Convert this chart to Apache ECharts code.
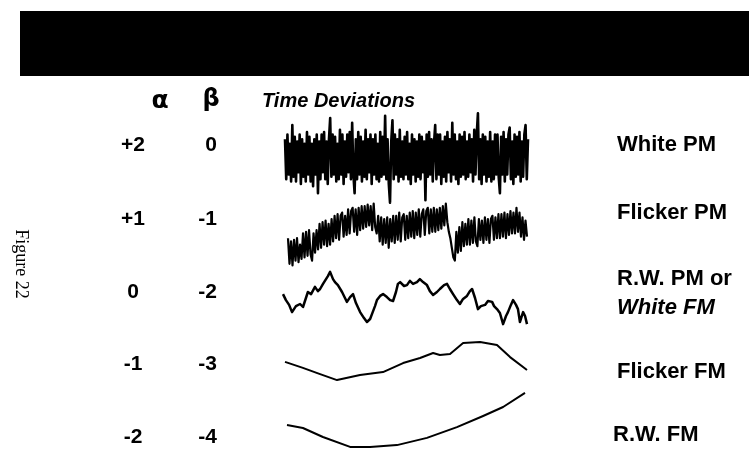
<!DOCTYPE html>
<html>
<head>
<meta charset="utf-8">
<script src="https://cdn.jsdelivr.net/npm/echarts@6/dist/echarts.min.js"></script>
<style>html,body{margin:0;padding:0;background:#fff}#c{width:749px;height:449px}</style>
</head>
<body>
<div id="c"></div>
<script>
// Row labels
var alphaLabels = ['+2', '+1', '0', '-1', '-2'];
var betaLabels = ['0', '-1', '-2', '-3', '-4'];
var noiseNames = ['White PM', 'Flicker PM', 'R.W. PM or', 'Flicker FM', 'R.W. FM'];

// White PM (sample index -> deviation)
var whitePM = [
 0.4,-0.45,0.5,-0.35,0.3,-0.5,0.7,-0.4,0.45,-0.5,
 0.35,-0.3,0.5,-0.55,0.4,-0.4,0.3,-0.5,0.55,-0.35,
 0.45,-0.5,0.3,-0.6,0.4,-0.35,0.5,-0.75,0.35,-0.45,
 0.5,-0.3,0.55,-0.45,0.35,-0.55,0.4,0.85,-0.4,0.5,
 -0.35,0.45,-0.5,0.3,-0.45,0.6,-0.35,0.5,-0.55,0.35,
 -0.4,0.5,-0.3,0.55,-0.45,0.75,-0.35,-0.75,0.4,-0.45,
 0.55,-0.35,0.45,-0.5,0.35,-0.4,0.6,-0.45,0.4,-0.3,
 0.5,-0.55,0.4,-0.35,0.5,-0.45,0.3,-0.5,0.55,-0.4,
 0.45,-0.35,0.9,-0.45,0.4,-0.55,-0.95,0.35,0.8,-0.45,
 0.5,-0.35,0.4,-0.5,0.6,-0.4,0.35,-0.45,0.45,-0.35,
 0.55,-0.45,0.3,-0.55,0.5,-0.35,0.4,-0.5,0.35,-0.4,
 0.5,-0.45,0.45,-0.3,0.35,-0.9,0.5,-0.4,0.55,-0.35,
 0.4,-0.5,0.3,0.7,-0.45,0.5,-0.35,0.5,-0.55,0.35,
 -0.4,0.45,-0.5,0.55,-0.3,0.4,-0.5,0.75,-0.35,0.5,
 -0.45,0.35,-0.55,0.5,-0.4,0.45,-0.35,0.55,-0.45,0.35,
 -0.4,0.5,-0.3,0.4,-0.5,0.6,-0.35,0.5,0.95,-0.45,
 0.4,-0.55,0.5,-0.35,0.45,-0.5,0.35,-0.4,0.55,-0.5,
 0.35,-0.45,0.5,-0.35,0.5,-0.4,-0.75,0.45,-0.35,0.55,
 -0.5,0.4,-0.35,0.5,0.65,-0.45,0.35,-0.55,0.5,-0.4,
 0.45,-0.35,0.55,-0.5,0.35,-0.4,0.5,0.7,-0.45,0.4
];

// Flicker PM (sample index -> deviation)
var flickerPM = [
 -0.1,-0.9,-0.2,-0.95,-0.15,-0.8,-0.1,-0.85,-0.3,-0.75,
 0.05,-0.7,0.1,-0.65,0.15,-0.6,-0.8,0.05,-0.55,0.15,
 -0.45,0.35,-0.4,0.4,-0.3,0.45,-0.35,0.35,-0.3,0.5,
 -0.2,0.6,-0.1,0.65,-0.15,0.6,0.7,-0.05,0.6,0.0,
 0.8,0.05,0.75,0.85,0.1,0.8,0.0,0.85,0.15,0.9,
 0.2,0.9,0.25,0.95,0.3,0.9,0.15,0.98,0.25,0.05,
 0.6,-0.2,0.55,-0.3,0.5,-0.25,0.55,-0.4,0.5,-0.2,
 0.6,-0.25,0.6,-0.15,0.7,-0.2,0.55,0.65,-0.15,0.6,
 -0.1,0.7,-0.05,0.75,-0.1,0.7,0.0,0.8,-0.05,0.65,
 0.8,0.0,0.75,0.85,0.05,0.8,0.1,0.85,0.1,0.8,
 0.15,0.85,0.2,0.9,0.3,0.98,0.4,0.1,-0.1,-0.4,
 -0.7,-0.8,0.1,-0.55,0.25,-0.5,0.4,-0.35,0.35,-0.3,
 0.5,-0.3,0.45,-0.25,0.55,-0.2,-0.35,0.5,-0.15,0.45,
 -0.25,0.55,-0.15,0.5,-0.25,0.5,0.6,-0.15,0.55,-0.1,
 0.65,-0.1,0.65,-0.05,0.7,-0.1,0.65,0.0,0.75,0.05,
 0.7,0.05,0.85,0.1,0.7,-0.05,0.55,-0.15,0.45,-0.05
];

// Random walk PM / White FM ([time, deviation])
var rwPM = [
 [0,0.13],[1.2,-0.07],[2.5,-0.23],[3.7,-0.47],[5.3,-0.27],[7.0,-0.2],[8.2,-0.3],[9.4,0.0],
 [10.2,0.2],[11.5,0.13],[13.1,0.37],[14.3,0.23],[15.2,0.3],[16.4,0.47],[17.2,0.53],[18.4,0.73],
 [19.3,0.87],[20.5,0.63],[21.3,0.53],[22.5,0.43],[24.2,0.2],[25.4,0.0],[26.2,-0.13],[27.5,0.03],
 [28.7,0.13],[29.9,-0.17],[31.6,-0.47],[33.2,-0.67],[34.4,-0.8],[35.7,-0.7],[36.5,-0.53],[37.7,-0.27],
 [38.5,-0.07],[39.8,0.07],[41.0,0.13],[42.6,0.03],[43.9,-0.07],[45.1,-0.1],[46.3,0.2],[47.1,0.47],
 [48.0,0.53],[49.6,0.4],[50.8,0.43],[52.0,0.57],[53.3,0.47],[54.9,0.53],[56.1,0.63],[57.4,0.53],
 [59.0,0.43],[60.2,0.23],[61.5,0.1],[63.1,0.2],[64.3,0.3],[66.0,0.43],[67.2,0.47],[68.4,0.3],
 [69.7,0.13],[71.3,-0.07],[72.5,-0.2],[73.8,-0.03],[75.4,0.07],[76.6,0.23],[77.5,0.3],[78.7,0.0],
 [79.9,-0.37],[81.1,-0.27],[82.8,-0.23],[84.0,-0.1],[85.7,-0.13],[86.5,-0.27],[87.7,-0.37],[88.9,-0.5],
 [90.2,-0.87],[91.4,-0.6],[92.2,-0.47],[93.4,-0.23],[94.3,-0.07],[95.5,-0.23],[96.3,-0.37],[97.1,-0.8],
 [98.0,-0.57],[98.4,-0.47],[99.2,-0.6],[100,-0.87]
];

// Flicker FM ([time, deviation])
var flickerFM = [
 [0,-0.04],[7.4,-0.3],[14.5,-0.57],[21.5,-0.83],[31,-0.61],[40.5,-0.48],[48.8,-0.09],
 [55.8,0.13],[61.2,0.35],[64,0.26],[68.2,0.3],[73.6,0.78],[80.6,0.83],[87.6,0.7],[93,0.17],[100,-0.39]
];

// Random walk FM ([time, deviation])
var rwFM = [
 [0,-0.2],[6.7,-0.3],[15.1,-0.6],[26.5,-0.93],[34.9,-0.93],[46.2,-0.87],
 [58.8,-0.63],[71.4,-0.27],[82.4,0.1],[90.8,0.4],[100,0.87]
];

var chart = echarts.init(document.getElementById('c'));

var grids = [
  {left: 285, width: 243, top: 111, height: 94},
  {left: 288, width: 239, top: 203, height: 64},
  {left: 283, width: 244, top: 268, height: 60},
  {left: 285, width: 242, top: 338, height: 46},
  {left: 287, width: 238, top: 389, height: 60}
];

var xAxes = [
  {type: 'category', boundaryGap: false, data: whitePM.map(function(_, i){return i;})},
  {type: 'category', boundaryGap: false, data: flickerPM.map(function(_, i){return i;})},
  {type: 'value', min: 0, max: 100},
  {type: 'value', min: 0, max: 100},
  {type: 'value', min: 0, max: 100}
].map(function(a, i){ a.gridIndex = i; a.show = false; return a; });

var yAxes = grids.map(function(_, i){
  return {type: 'value', gridIndex: i, min: -1, max: 1, show: false};
});

var seriesData = [whitePM, flickerPM, rwPM, flickerFM, rwFM];
var widths = [2.6, 2.2, 2.5, 2, 2];
var series = seriesData.map(function(d, i){
  return {
    type: 'line', xAxisIndex: i, yAxisIndex: i, data: d,
    showSymbol: false, symbol: 'none', clip: false,
    lineStyle: {color: '#000', width: widths[i], join: 'round'},
    silent: true
  };
});

var rowY = [145, 219, 292, 364, 437];
var labelY = [145, 213, 279, 372, 435];
var labelX = [617, 617, 617, 617, 613];

var graphic = [
  {type: 'rect', shape: {x: 20, y: 11, width: 729, height: 65}, style: {fill: '#000'}},
  {type: 'text', x: 160, y: 101, style: {text: 'α', font: 'bold 25px "DejaVu Sans", sans-serif', fill: '#000', align: 'center', verticalAlign: 'middle'}},
  {type: 'text', x: 211, y: 100, style: {text: 'β', font: 'bold 24px "DejaVu Sans", sans-serif', fill: '#000', align: 'center', verticalAlign: 'middle'}},
  {type: 'text', x: 262, y: 101, style: {text: 'Time Deviations', font: 'italic bold 20px "Liberation Sans", Arial, sans-serif', fill: '#000', align: 'left', verticalAlign: 'middle'}},
  {type: 'text', x: 21, y: 264, rotation: -Math.PI / 2, style: {text: 'Figure 22', font: '18px "Liberation Serif", "Times New Roman", serif', fill: '#000', align: 'center', verticalAlign: 'middle'}},
  {type: 'text', x: 617, y: 308, style: {text: 'White FM', font: 'italic bold 22px "Liberation Sans", Arial, sans-serif', fill: '#000', align: 'left', verticalAlign: 'middle'}}
];
alphaLabels.forEach(function(t, i){
  graphic.push({type: 'text', x: 133, y: rowY[i], style: {text: t, font: 'bold 21px "Liberation Sans", Arial, sans-serif', fill: '#000', align: 'center', verticalAlign: 'middle'}});
});
betaLabels.forEach(function(t, i){
  graphic.push({type: 'text', x: 217, y: rowY[i], style: {text: t, font: 'bold 21px "Liberation Sans", Arial, sans-serif', fill: '#000', align: 'right', verticalAlign: 'middle'}});
});
noiseNames.forEach(function(t, i){
  graphic.push({type: 'text', x: labelX[i], y: labelY[i], style: {text: t, font: 'bold 22px "Liberation Sans", Arial, sans-serif', fill: '#000', align: 'left', verticalAlign: 'middle'}});
});

chart.setOption({
  animation: false,
  backgroundColor: '#fff',
  grid: grids,
  xAxis: xAxes,
  yAxis: yAxes,
  series: series,
  graphic: graphic
});
</script>
</body>
</html>
